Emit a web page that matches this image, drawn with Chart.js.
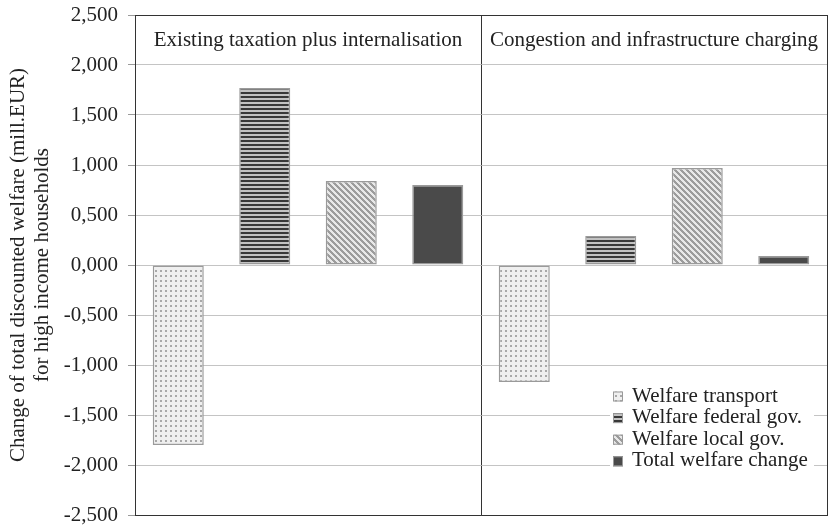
<!DOCTYPE html>
<html>
<head>
<meta charset="utf-8">
<script src="https://cdn.jsdelivr.net/npm/chart.js@4/dist/chart.umd.min.js"></script>
<style>
  html, body { margin: 0; padding: 0; background: #ffffff; }
  canvas { display: block; }
</style>
</head>
<body>
<canvas id="chart" width="830" height="530"></canvas>
<script>
// Scenarios (one panel each) and the welfare components shown per scenario
const scenarios = ['Existing taxation plus internalisation', 'Congestion and infrastructure charging'];
const seriesNames = ['Welfare transport', 'Welfare federal gov.', 'Welfare local gov.', 'Total welfare change'];

const welfareTransport = [-1.80, -1.17];
const welfareFederal   = [1.77, 0.29];
const welfareLocal     = [0.84, 0.97];
const welfareTotal     = [0.80, 0.09];

// Value axis range and step
const yMin = -2.5;
const yMax = 2.5;
const yStep = 0.5;
const yAxisTitle = ['Change of total discounted welfare (mill.EUR)', 'for high income households'];

const FONT = "'Liberation Serif', 'Times New Roman', serif";
const TEXT = '#222222';

// ---- fill patterns ----
function makeTile(w, h, paint) {
  const c = document.createElement('canvas');
  c.width = w; c.height = h;
  const g = c.getContext('2d');
  paint(g, w, h);
  return document.getElementById('chart').getContext('2d').createPattern(c, 'repeat');
}

const dottedFill = makeTile(5, 5, (g) => {
  g.fillStyle = '#efefef'; g.fillRect(0, 0, 5, 5);
  g.fillStyle = '#a8a8a8'; g.fillRect(0, 0, 2, 2);
});

const hStripeFill = makeTile(4, 4, (g) => {
  g.fillStyle = '#c2c2c2'; g.fillRect(0, 0, 4, 4);
  g.fillStyle = '#383838'; g.fillRect(0, 0, 4, 2);
});

const diagFill = makeTile(6, 6, (g) => {
  for (let x = 0; x < 6; x++) {
    for (let y = 0; y < 6; y++) {
      const d = ((x - y) % 6 + 6) % 6;
      g.fillStyle = d < 3 ? '#9c9c9c' : '#e8e8e8';
      g.fillRect(x, y, 1, 1);
    }
  }
});

const solidFill = '#4a4a4a';
const fills = [dottedFill, hStripeFill, diagFill, solidFill];
const seriesData = [welfareTransport, welfareFederal, welfareLocal, welfareTotal];

const formatTick = (v) => v.toFixed(3).replace('.', ',').replace(/^-0,000$/, '0,000');

// Scenario names written inside the top of each panel
const scenarioLabels = {
  id: 'scenarioLabels',
  afterDatasetsDraw(chart) {
    const { ctx, chartArea, scales } = chart;
    ctx.save();
    ctx.font = '21px ' + FONT;
    ctx.fillStyle = TEXT;
    ctx.textAlign = 'center';
    ctx.textBaseline = 'alphabetic';
    scenarios.forEach((name, i) => {
      ctx.fillText(name, scales.x.getPixelForValue(i), chartArea.top + 30.5);
    });
    ctx.restore();
  }
};

// Legend placed in the lower right corner of the plot
const innerLegend = {
  id: 'innerLegend',
  afterDraw(chart) {
    const { ctx, chartArea } = chart;
    const left = chartArea.right - 214;
    const firstBaseline = chartArea.bottom - 113.5;
    const rowH = 21.6;
    ctx.save();
    ctx.fillStyle = '#ffffff';
    ctx.fillRect(left - 3, firstBaseline - 17, 204, rowH * 4 + 6);
    ctx.font = '21px ' + FONT;
    ctx.textAlign = 'left';
    ctx.textBaseline = 'alphabetic';
    chart.data.datasets.forEach((ds, i) => {
      const base = firstBaseline + i * rowH;
      ctx.fillStyle = ds.backgroundColor;
      ctx.fillRect(left, base - 10, 10, 10);
      ctx.strokeStyle = '#9a9a9a';
      ctx.lineWidth = 1;
      ctx.strokeRect(left + 0.5, base - 9.5, 9, 9);
      ctx.fillStyle = TEXT;
      ctx.fillText(ds.label, left + 19, base);
    });
    ctx.restore();
  }
};

new Chart(document.getElementById('chart'), {
  type: 'bar',
  data: {
    labels: scenarios,
    datasets: seriesNames.map((name, i) => ({
      label: name,
      data: seriesData[i],
      backgroundColor: fills[i],
      borderColor: '#9a9a9a',
      borderWidth: 1.5,
      borderSkipped: false,
      categoryPercentage: 1.0,
      barPercentage: 0.59
    }))
  },
  options: {
    responsive: false,
    animation: false,
    devicePixelRatio: 1,
    layout: { padding: { top: 15, right: 3, bottom: 15, left: 0 } },
    plugins: {
      legend: { display: false },
      tooltip: { enabled: false },
      title: { display: false }
    },
    scales: {
      x: {
        offset: true,
        ticks: { display: false },
        grid: { offset: true, drawTicks: false, color: '#333333', lineWidth: 1 },
        border: { display: true, color: '#333333', width: 1 },
        afterFit(scale) { scale.height = 0; }
      },
      y: {
        min: yMin,
        max: yMax,
        ticks: {
          stepSize: yStep,
          padding: 10,
          color: TEXT,
          font: { family: FONT, size: 21, lineHeight: 0.4 },
          callback: (v) => formatTick(v)
        },
        grid: {
          tickLength: 7,
          lineWidth: 1,
          color: (ctx) => (ctx.tick && (ctx.tick.value === yMax || ctx.tick.value === yMin)) ? '#333333' : '#c4c4c4',
          tickColor: '#9a9a9a'
        },
        border: { display: true, color: '#333333', width: 1 },
        title: {
          display: true,
          text: yAxisTitle,
          color: TEXT,
          font: { family: FONT, size: 21, lineHeight: 1.15 },
          padding: { top: 6, bottom: 0 }
        },
        afterFit(scale) { scale.width = 135; }
      }
    }
  },
  plugins: [scenarioLabels, innerLegend]
});
</script>
</body>
</html>
